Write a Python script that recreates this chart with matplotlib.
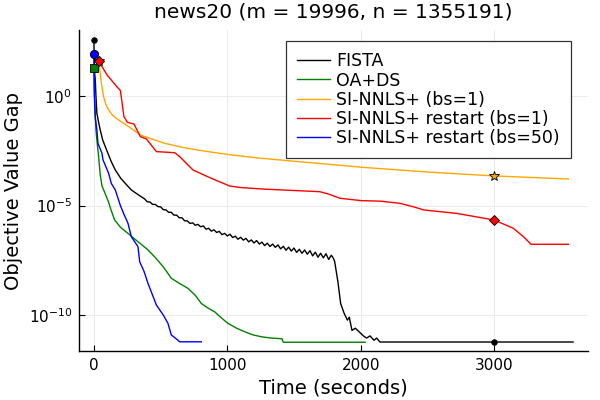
import numpy as np
import matplotlib
matplotlib.use("Agg")
import matplotlib.pyplot as plt

# Values; gaps are stored as log10 values
fista_t = [0, 2, 6, 10, 15, 22, 35, 47, 65, 95, 130, 160, 200, 235, 280, 335,
           380, 400, 420, 440, 460, 480, 500, 520, 540, 560, 580, 600, 620, 640,
           660, 680, 700, 720, 740, 760, 780, 800, 820, 840, 860, 880, 900, 920,
           940, 960, 980, 1000, 1020, 1040, 1060, 1080, 1100, 1120, 1140, 1160,
           1180, 1200, 1220, 1240, 1260, 1280, 1300, 1320, 1340, 1360, 1380,
           1400, 1420, 1440, 1460, 1480, 1500, 1520, 1540, 1560, 1580, 1600,
           1620, 1640, 1660, 1680, 1700, 1720, 1740, 1760, 1780, 1795,
           1805, 1830, 1850, 1875, 1900, 1915, 1935, 1960, 1995, 2020, 2045,
           2070, 2100, 2120, 2145, 3593]
fista_log = [2.56, 1.5, 1.0, 0.7, 0.0, -0.79, -1.2, -1.55, -2.0, -2.47, -3.0,
             -3.38, -3.75, -3.99, -4.29, -4.52,
             -4.70, -4.83, -4.84, -4.95, -4.95, -5.05, -5.06, -5.19, -5.20,
             -5.31, -5.31, -5.44, -5.44, -5.56, -5.56, -5.70, -5.70, -5.82,
             -5.79, -5.90, -5.86, -5.97, -5.93, -6.08, -6.04, -6.17, -6.11,
             -6.23, -6.18, -6.33, -6.27, -6.39, -6.31, -6.46, -6.40, -6.54,
             -6.45, -6.58, -6.50, -6.66, -6.57, -6.71, -6.60, -6.76, -6.67,
             -6.83, -6.72, -6.87, -6.76, -6.91, -6.80, -6.98, -6.86, -7.04,
             -6.90, -7.08, -6.94, -7.14, -7.00, -7.18, -7.03, -7.22, -7.06,
             -7.30, -7.13, -7.36, -7.18, -7.39, -7.20, -7.46, -7.27, -7.40,
             -7.55, -8.5, -9.47, -9.9, -10.23, -10.1, -10.7, -10.6, -10.8,
             -10.95, -11.05, -10.95, -11.15, -11.05, -11.23, -11.23]

oads_t = [0, 2, 5, 10, 15, 25, 35, 47, 60, 80, 110, 125, 155, 200, 255, 330,
          400, 455, 520, 580, 640, 705, 760, 805, 855, 905, 950, 1005, 1070,
          1130, 1190, 1255, 1330, 1410, 1420, 2033]
oads_log = [1.28, 0.5, -0.03, -0.9, -1.55, -2.2, -2.77, -3.6, -4.1, -4.4,
            -4.85, -5.15, -5.66, -6.0, -6.27, -6.65, -7.0, -7.34, -7.8, -8.32,
            -8.55, -8.78, -9.1, -9.47, -9.68, -9.85, -10.1, -10.38, -10.6,
            -10.76, -10.9, -10.99, -11.05, -11.08, -11.24, -11.24]

si_t = [35, 47, 55, 72, 90, 110, 140, 185, 260, 348, 450, 530, 650, 780, 900,
        1030, 1230, 1520, 2020, 2520, 3000, 3558]
si_log = [1.61, 1.04, 0.6, -0.03, -0.4, -0.64, -0.88, -1.1, -1.4, -1.78, -2.0,
          -2.16, -2.33, -2.47, -2.58, -2.69, -2.83, -2.99, -3.26, -3.48, -3.65,
          -3.79]

sir_t = [35, 60, 98, 172, 198, 225, 250, 300, 348, 393, 468, 605, 643, 743,
         880, 1018, 1100, 1270, 1695, 1770, 1845, 2008, 2145, 2295, 2408, 2470,
         2720, 3000, 3145, 3220, 3278, 3558]
sir_log = [1.61, 1.34, 0.96, 0.42, 0.25, -0.95, -1.2, -1.28, -1.86, -1.96,
           -2.54, -2.59, -2.77, -3.38, -3.76, -4.11, -4.18, -4.25, -4.37,
           -4.5, -4.67, -4.78, -4.8, -4.9, -5.08, -5.2, -5.36, -5.66, -6.04,
           -6.42, -6.77, -6.77]

sir50_t = [0, 3, 10, 22, 30, 60, 68, 110, 130, 160, 198, 225, 255, 280, 330,
           343, 375, 405, 440, 468, 520, 555, 580, 610, 643, 805]
sir50_log = [1.92, 0.0, -1.0, -1.55, -2.16, -2.62, -2.92, -3.53, -3.99, -4.29,
             -5.0, -5.4, -5.81, -6.42, -6.88, -7.57, -8.0, -8.55, -9.1, -9.54,
             -10.0, -10.38, -10.91, -11.05, -11.22, -11.22]

series = [
    ("FISTA", fista_t, fista_log, "black", "o", 4, [0, 3000]),
    ("OA+DS", oads_t, oads_log, "#008000", "s", 6, [0]),
    ("SI-NNLS+ (bs=1)", si_t, si_log, "#FFA500", "*", 7, [35, 3000]),
    ("SI-NNLS+ restart (bs=1)", sir_t, sir_log, "#FF0000", "D", 5, [35, 3000]),
    ("SI-NNLS+ restart (bs=50)", sir50_t, sir50_log, "#0000FF", "o", 6, [0]),
]

fig = plt.figure(figsize=(6, 4), dpi=100)
ax = fig.add_axes([0.1317, 0.1225, 0.8483, 0.8025])

for k, (label, t, lg, color, marker, ms, mark_at) in enumerate(series):
    t = np.array(t, dtype=float)
    y = np.power(10.0, np.array(lg))
    ax.plot(t, y, color=color, lw=1.0, label=label, zorder=2 + k)
    # markers sit on the curve at the chosen times
    mx = np.array(mark_at, dtype=float)
    my = np.power(10.0, np.interp(mx, t, np.array(lg)))
    ax.plot(mx, my, linestyle="none", marker=marker, markersize=ms,
            markerfacecolor=color, markeredgecolor="black",
            markeredgewidth=0.6, zorder=10 + k)

ax.set_yscale("log")
ax.set_xlim(-112, 3705)
ax.set_ylim(10 ** -11.64, 10 ** 3.01)

ax.set_xticks([0, 1000, 2000, 3000])
ax.set_yticks([1e0, 1e-5, 1e-10])
ax.set_yticklabels(["$10^{0}$", "$10^{-5}$", "$10^{-10}$"])
ax.yaxis.set_minor_locator(matplotlib.ticker.NullLocator())
ax.tick_params(direction="in", length=4, width=0.8, labelsize=11, pad=5)

ax.grid(True, color="#e8e8e8", lw=0.6)
ax.set_axisbelow(True)
for side in ["top", "right"]:
    ax.spines[side].set_visible(False)
for side in ["left", "bottom"]:
    ax.spines[side].set_linewidth(1.0)

ax.set_title("news20 (m = 19996, n = 1355191)", fontsize=14.5, pad=9)
ax.set_xlabel("Time (seconds)", fontsize=14)
ax.set_ylabel("Objective Value Gap", fontsize=14)

leg = ax.legend(loc="upper right", bbox_to_anchor=(0.9666, 0.9657),
                bbox_transform=ax.transAxes, borderaxespad=0, fontsize=12.5,
                fancybox=False, edgecolor="#333333", framealpha=1,
                handlelength=1.9, handletextpad=0.35, labelspacing=0.07,
                borderpad=0.65)
leg.get_frame().set_linewidth(0.9)

fig.savefig("out.png", dpi=100)
